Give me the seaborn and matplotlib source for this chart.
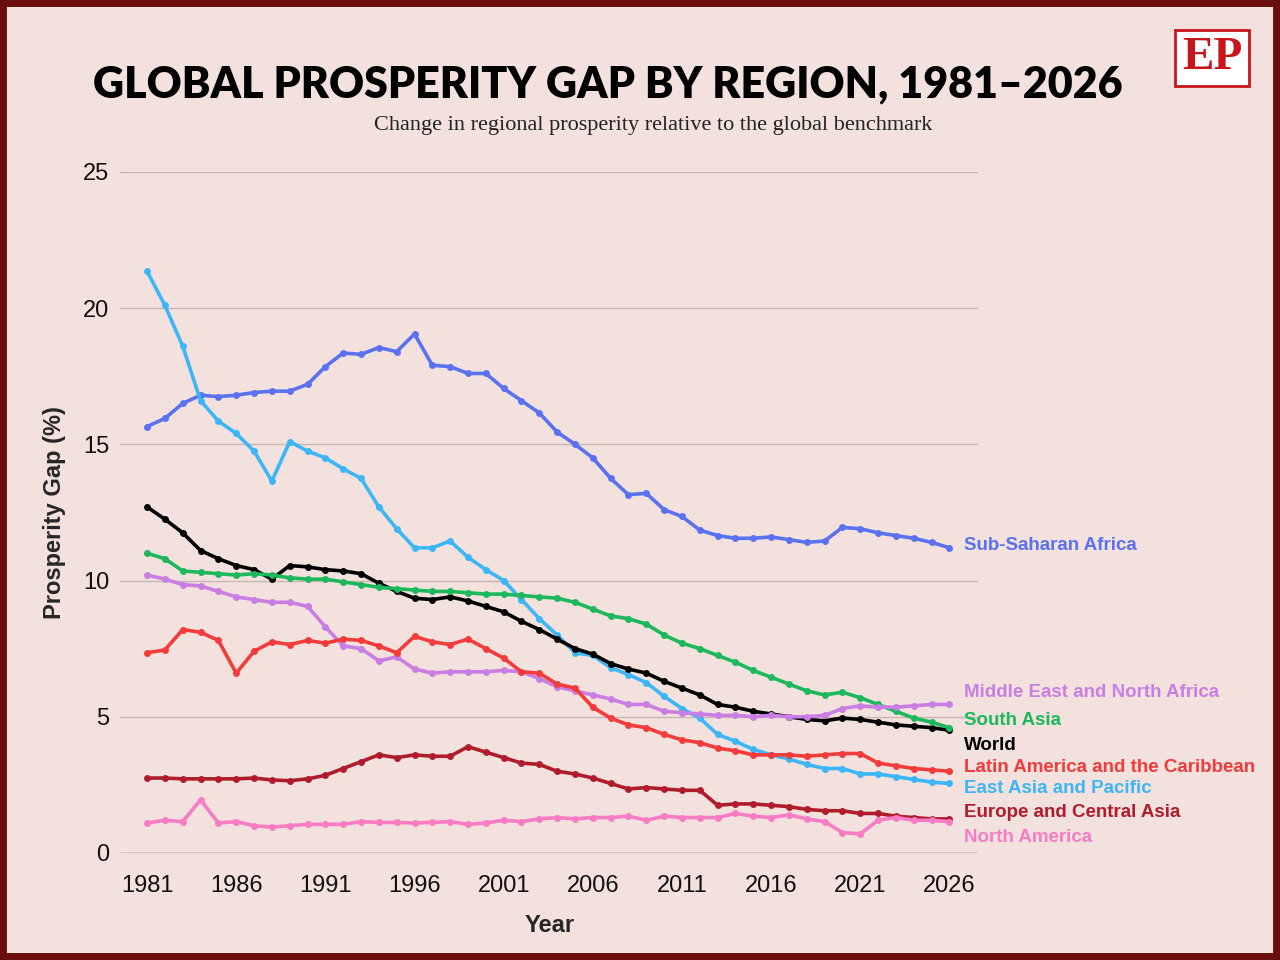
import numpy as np
import pandas as pd
import matplotlib
matplotlib.use("Agg")
import matplotlib.pyplot as plt
import seaborn as sns

years = list(range(1981, 2027))

ssa = [15.65, 15.95, 16.5, 16.8, 16.75, 16.8, 16.9, 16.95, 16.95, 17.2, 17.85, 18.35, 18.3, 18.55, 18.4, 19.05,
       17.9, 17.85, 17.6, 17.6, 17.05, 16.6, 16.15, 15.45, 15.0, 14.5, 13.75, 13.15, 13.2, 12.6, 12.35, 11.85,
       11.65, 11.55, 11.55, 11.6, 11.5, 11.4, 11.45, 11.95, 11.9, 11.75, 11.65, 11.55, 11.4, 11.2]
eap = [21.35, 20.1, 18.6, 16.6, 15.85, 15.4, 14.75, 13.65, 15.1, 14.75, 14.5, 14.1, 13.75, 12.7, 11.9, 11.2,
       11.2, 11.45, 10.85, 10.4, 10.0, 9.3, 8.6, 8.0, 7.35, 7.25, 6.8, 6.55, 6.25, 5.75, 5.3, 4.95,
       4.35, 4.1, 3.8, 3.6, 3.45, 3.25, 3.1, 3.1, 2.9, 2.9, 2.8, 2.7, 2.6, 2.55]
world = [12.7, 12.25, 11.75, 11.1, 10.8, 10.55, 10.4, 10.05, 10.55, 10.5, 10.4, 10.35, 10.25, 9.9, 9.6, 9.35,
         9.3, 9.4, 9.25, 9.05, 8.85, 8.5, 8.2, 7.85, 7.5, 7.3, 6.95, 6.75, 6.6, 6.3, 6.05, 5.8,
         5.45, 5.35, 5.2, 5.1, 5.0, 4.9, 4.85, 4.95, 4.9, 4.8, 4.7, 4.65, 4.6, 4.5]
sa = [11.0, 10.8, 10.35, 10.3, 10.25, 10.2, 10.25, 10.2, 10.1, 10.05, 10.05, 9.95, 9.85, 9.75, 9.7, 9.65,
      9.6, 9.6, 9.55, 9.5, 9.5, 9.45, 9.4, 9.35, 9.2, 8.95, 8.7, 8.6, 8.4, 8.0, 7.7, 7.5,
      7.25, 7.0, 6.7, 6.45, 6.2, 5.95, 5.8, 5.9, 5.7, 5.45, 5.2, 4.95, 4.8, 4.6]
mena = [10.2, 10.05, 9.85, 9.8, 9.6, 9.4, 9.3, 9.2, 9.2, 9.05, 8.3, 7.6, 7.5, 7.05, 7.2, 6.75,
        6.6, 6.65, 6.65, 6.65, 6.7, 6.65, 6.4, 6.1, 5.95, 5.8, 5.65, 5.45, 5.45, 5.2, 5.15, 5.1,
        5.05, 5.05, 5.0, 5.05, 5.0, 5.0, 5.05, 5.3, 5.4, 5.35, 5.35, 5.4, 5.45, 5.45]
lac = [7.35, 7.45, 8.2, 8.1, 7.8, 6.6, 7.4, 7.75, 7.65, 7.8, 7.7, 7.85, 7.8, 7.6, 7.35, 7.95,
       7.75, 7.65, 7.85, 7.5, 7.15, 6.65, 6.6, 6.2, 6.05, 5.35, 4.95, 4.7, 4.6, 4.35, 4.15, 4.05,
       3.85, 3.75, 3.6, 3.6, 3.6, 3.55, 3.6, 3.65, 3.65, 3.3, 3.2, 3.1, 3.05, 3.0]
eca = [2.75, 2.75, 2.72, 2.72, 2.72, 2.72, 2.75, 2.68, 2.65, 2.72, 2.85, 3.1, 3.35, 3.6, 3.5, 3.6,
       3.55, 3.55, 3.9, 3.7, 3.5, 3.3, 3.25, 3.0, 2.9, 2.75, 2.55, 2.35, 2.4, 2.35, 2.3, 2.3,
       1.75, 1.8, 1.8, 1.75, 1.7, 1.6, 1.55, 1.55, 1.45, 1.45, 1.35, 1.3, 1.25, 1.25]
na = [1.1, 1.2, 1.15, 1.95, 1.1, 1.15, 1.0, 0.95, 1.0, 1.05, 1.05, 1.05, 1.15, 1.12, 1.12, 1.1,
      1.12, 1.15, 1.05, 1.1, 1.2, 1.15, 1.25, 1.3, 1.25, 1.3, 1.3, 1.35, 1.2, 1.35, 1.3, 1.3,
      1.3, 1.45, 1.35, 1.3, 1.4, 1.25, 1.15, 0.75, 0.7, 1.2, 1.3, 1.2, 1.2, 1.15]

regions = ["Sub-Saharan Africa", "East Asia and Pacific", "World", "South Asia",
           "Middle East and North Africa", "Latin America and the Caribbean",
           "Europe and Central Asia", "North America"]
series = [ssa, eap, world, sa, mena, lac, eca, na]
colors = ["#5b72f0", "#3db6f7", "#000000", "#1db85c", "#c97ee3", "#f23b3b", "#b01c2c", "#f77cc4"]
# label positions (data y) at right margin
label_y = [11.3, 2.35, 3.95, 4.85, 5.9, 3.15, 1.5, 0.55]

df = pd.DataFrame({"Year": np.tile(years, len(regions)),
                   "Gap": np.concatenate(series),
                   "Region": np.repeat(regions, len(years))})

bg = "#f2e1dd"
sns.set_theme(style="white")
plt.rcParams["font.family"] = ["Liberation Sans", "DejaVu Sans"]

fig = plt.figure(figsize=(12.8, 9.6), dpi=100, facecolor=bg)
ax = fig.add_axes([0.094, 0.1115, 0.67, 0.7095])
ax.set_facecolor(bg)
sns.lineplot(data=df, x="Year", y="Gap", hue="Region", palette=dict(zip(regions, colors)),
             marker="o", markersize=5, markeredgewidth=0, linewidth=2.6, legend=False, ax=ax)

ax.set_ylim(0, 25)
ax.set_xlim(1979.5, 2027.6)
ax.set_yticks([0, 5, 10, 15, 20, 25])
ax.set_xticks(range(1981, 2027, 5))
for v in [5, 10, 15, 20, 25]:
    ax.axhline(v, color="#c9b5b1", lw=1, zorder=0)
ax.axhline(0, color="#555555", lw=1, zorder=0)
ax.tick_params(axis="x", labelsize=17, colors="#111111", length=0, pad=16)
ax.tick_params(axis="y", labelsize=17, colors="#111111", length=0, pad=8)
for s in ax.spines.values():
    s.set_visible(False)
ax.set_xlabel("Year", fontsize=17, fontweight="bold", labelpad=12)
ax.set_ylabel("Prosperity Gap (%)", fontsize=17, fontweight="bold", labelpad=12)

for name, c, ly in zip(regions, colors, label_y):
    ax.text(2026.8, ly, name, color=c, fontsize=13.5, fontweight="bold", va="center", clip_on=False)

fig.text(0.475, 0.912, "GLOBAL PROSPERITY GAP BY REGION, 1981\u20132026", ha="center", va="center",
         fontsize=31, fontweight="heavy", color="black", family=["Lato", "DejaVu Sans"])
fig.text(0.51, 0.869, "Change in regional prosperity relative to the global benchmark", ha="center",
         va="center", fontsize=16, family=["Liberation Serif", "DejaVu Serif"], color="#222222")
fig.text(0.947, 0.94, "EP", ha="center", va="center", fontsize=34, fontweight="bold",
         color="#c8151b", family=["Liberation Serif", "DejaVu Serif"],
         bbox=dict(boxstyle="square,pad=0.15", fc="white", ec="#c8151b", lw=2))

fig.patches.append(plt.Rectangle((0, 0), 1, 1, transform=fig.transFigure, fill=False,
                                 ec="#6b0f0f", lw=10))
fig.savefig("out.png", dpi=100, facecolor=bg)
